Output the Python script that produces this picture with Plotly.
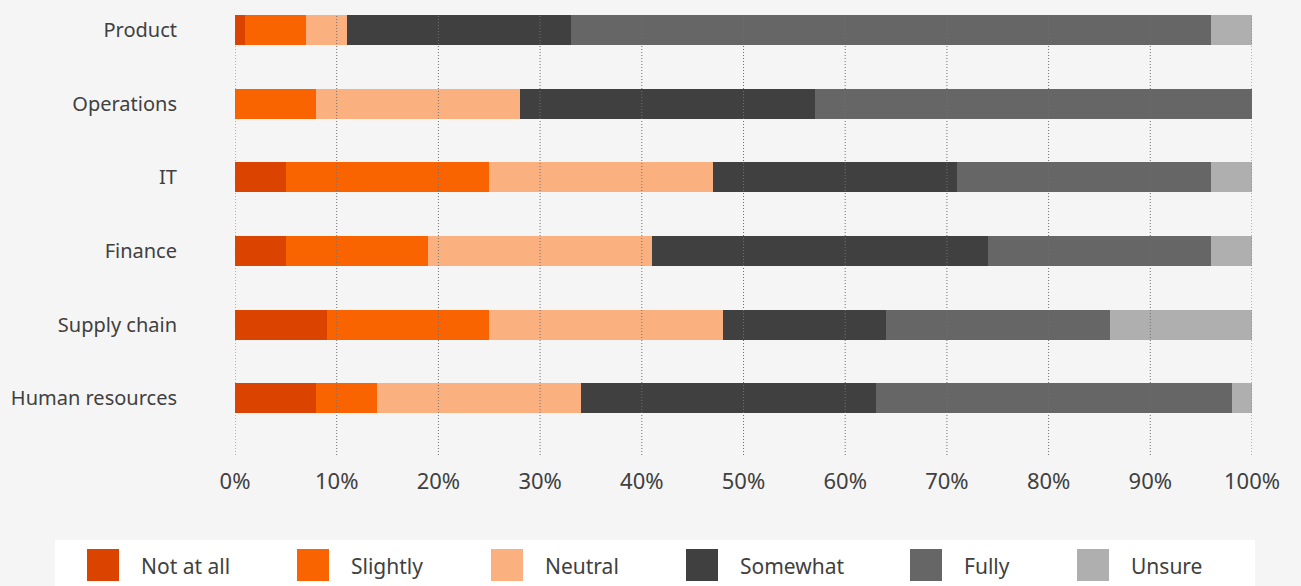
import plotly.graph_objects as go

categories = ["Product", "Operations", "IT", "Finance", "Supply chain", "Human resources"]
series_names = ["Not at all", "Slightly", "Neutral", "Somewhat", "Fully", "Unsure"]
not_at_all = [1, 0, 5, 5, 9, 8]
slightly = [6, 8, 20, 14, 16, 6]
neutral = [4, 20, 22, 22, 23, 20]
somewhat = [22, 29, 24, 33, 16, 29]
fully = [63, 43, 25, 22, 22, 35]
unsure = [4, 0, 4, 4, 14, 2]
tick_vals = [0, 10, 20, 30, 40, 50, 60, 70, 80, 90, 100]
tick_text = ["0%", "10%", "20%", "30%", "40%", "50%", "60%", "70%", "80%", "90%", "100%"]

colors = ["#DA4300", "#FA6400", "#FBB07F", "#404040", "#666666", "#AFAFAF"]
series_values = [not_at_all, slightly, neutral, somewhat, fully, unsure]

W, H = 1301, 586
ML, MR, MT, MB = 235, 49, 14, 131
PW = W - ML - MR
PH = H - MT - MB

FONT = "Noto Sans"
TXT = "#404040"
BG = "#F5F5F5"

fig = go.Figure()
for name, vals, col in zip(series_names, series_values, colors):
    fig.add_trace(go.Bar(
        y=categories, x=vals, name=name, orientation="h",
        marker=dict(color=col, line=dict(width=0)),
        width=0.41, showlegend=False,
        hovertemplate="%{y}: %{x}%<extra>" + name + "</extra>",
    ))

shapes = []
for tv in tick_vals:
    shapes.append(dict(type="line", xref="x", yref="paper", x0=tv, x1=tv, y0=0, y1=1,
                       line=dict(color="#707070", width=1, dash="1px,2px"), layer="above"))

def px_x(p):
    return (p - ML) / PW

def px_y(p):
    return (H - MB - p) / PH

shapes.append(dict(type="rect", xref="paper", yref="paper",
                   x0=px_x(55), x1=px_x(1255), y0=px_y(600), y1=px_y(540),
                   fillcolor="white", line=dict(width=0), layer="below"))

legend_square_x = [87, 297, 491, 686, 910, 1077]
annotations = []
for name, col, sx in zip(series_names, colors, legend_square_x):
    shapes.append(dict(type="rect", xref="paper", yref="paper",
                       x0=px_x(sx), x1=px_x(sx + 32), y0=px_y(581), y1=px_y(549),
                       fillcolor=col, line=dict(width=0)))
    annotations.append(dict(xref="paper", yref="paper", x=px_x(sx + 52), y=px_y(566),
                            text=name, showarrow=False, xanchor="left", yanchor="middle",
                            font=dict(family=FONT, size=21, color=TXT)))

fig.update_layout(
    barmode="stack",
    width=W, height=H,
    margin=dict(l=ML, r=MR, t=MT, b=MB, pad=0),
    paper_bgcolor=BG, plot_bgcolor=BG,
    font=dict(family=FONT, size=20, color=TXT),
    shapes=shapes, annotations=annotations,
    showlegend=False,
    xaxis=dict(range=[0, 100], tickvals=tick_vals, ticktext=tick_text,
               showgrid=False, zeroline=False, showline=False,
               ticks="", ticklabelstandoff=11,
               tickfont=dict(family=FONT, size=22, color=TXT), fixedrange=True),
    yaxis=dict(categoryorder="array", categoryarray=categories,
               range=[5.77, -0.217], showgrid=False, zeroline=False, showline=False,
               ticks="", ticklabelstandoff=57,
               tickfont=dict(family=FONT, size=20, color=TXT), fixedrange=True),
)

fig.write_html(
    "out.html",
    config={"displayModeBar": False},
    post_script="document.body.style.margin='0';document.body.style.overflow='hidden';document.body.style.background='" + BG + "';",
)
